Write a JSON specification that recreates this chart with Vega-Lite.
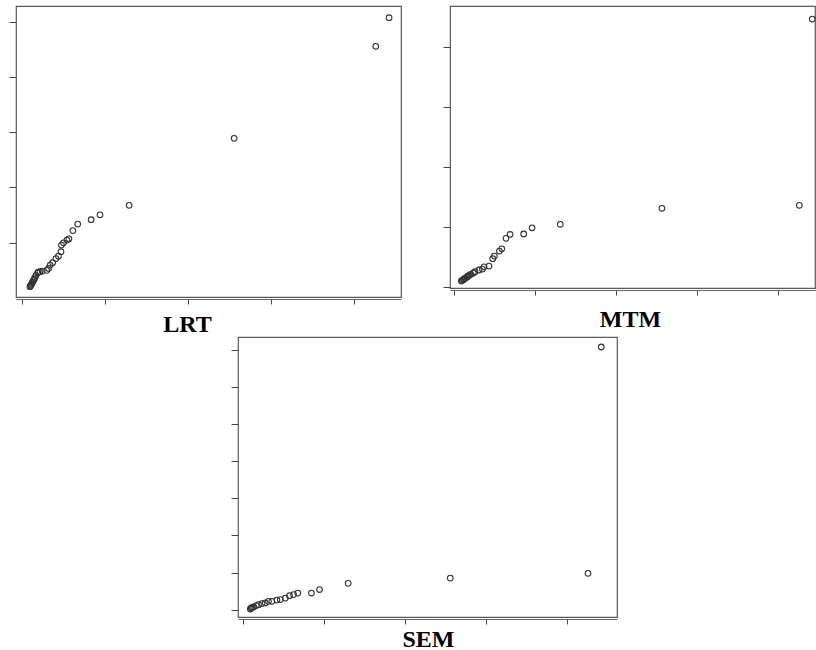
{
  "$schema": "https://vega.github.io/schema/vega-lite/v6.json",
  "padding": {"left": 7, "top": 5, "right": 0, "bottom": 0},
  "background": "white",
  "datasets": {
    "lrt": [
      {"x": 22.13, "y": 25.36}, {"x": 21.33, "y": 22.77}, {"x": 12.79, "y": 14.45}, {"x": 6.46, "y": 8.39},
      {"x": 4.70, "y": 7.53}, {"x": 4.17, "y": 7.08}, {"x": 3.36, "y": 6.69}, {"x": 3.07, "y": 6.10},
      {"x": 2.83, "y": 5.36}, {"x": 2.71, "y": 5.24}, {"x": 2.50, "y": 4.99}, {"x": 2.38, "y": 4.79},
      {"x": 2.35, "y": 4.19}, {"x": 2.20, "y": 3.78}, {"x": 2.05, "y": 3.57}, {"x": 1.85, "y": 3.19},
      {"x": 1.70, "y": 2.98}, {"x": 1.60, "y": 2.67}, {"x": 1.49, "y": 2.50}, {"x": 1.22, "y": 2.44},
      {"x": 1.08, "y": 2.38}, {"x": 0.99, "y": 2.35}, {"x": 0.95, "y": 2.29}, {"x": 0.84, "y": 2.05},
      {"x": 0.78, "y": 1.83}, {"x": 0.74, "y": 1.71}, {"x": 0.70, "y": 1.60}, {"x": 0.66, "y": 1.49},
      {"x": 0.62, "y": 1.38}, {"x": 0.58, "y": 1.26}, {"x": 0.54, "y": 1.17}, {"x": 0.51, "y": 1.08},
      {"x": 0.48, "y": 1.02}
    ],
    "mtm": [
      {"x": 22.10, "y": 22.33}, {"x": 21.30, "y": 6.81}, {"x": 12.82, "y": 6.56}, {"x": 6.54, "y": 5.23},
      {"x": 4.80, "y": 4.94}, {"x": 4.28, "y": 4.42}, {"x": 3.44, "y": 4.38}, {"x": 3.19, "y": 4.06},
      {"x": 2.93, "y": 3.19}, {"x": 2.78, "y": 3.00}, {"x": 2.47, "y": 2.58}, {"x": 2.37, "y": 2.36},
      {"x": 2.14, "y": 1.75}, {"x": 1.83, "y": 1.69}, {"x": 1.73, "y": 1.50}, {"x": 1.52, "y": 1.42},
      {"x": 1.28, "y": 1.28}, {"x": 1.17, "y": 1.17}, {"x": 1.01, "y": 1.06}, {"x": 0.94, "y": 1.00},
      {"x": 0.86, "y": 0.92}, {"x": 0.81, "y": 0.88}, {"x": 0.77, "y": 0.81}, {"x": 0.66, "y": 0.73},
      {"x": 0.60, "y": 0.67}, {"x": 0.56, "y": 0.61}, {"x": 0.48, "y": 0.56}, {"x": 0.43, "y": 0.50}
    ],
    "sem": [
      {"x": 22.14, "y": 35.44}, {"x": 21.32, "y": 4.89}, {"x": 12.82, "y": 4.25}, {"x": 6.52, "y": 3.54},
      {"x": 4.75, "y": 2.71}, {"x": 4.25, "y": 2.23}, {"x": 3.41, "y": 2.23}, {"x": 3.15, "y": 2.02},
      {"x": 2.90, "y": 1.88}, {"x": 2.64, "y": 1.56}, {"x": 2.33, "y": 1.35}, {"x": 2.12, "y": 1.29},
      {"x": 1.81, "y": 1.12}, {"x": 1.60, "y": 1.12}, {"x": 1.40, "y": 0.89}, {"x": 1.20, "y": 0.81},
      {"x": 0.99, "y": 0.67}, {"x": 0.85, "y": 0.54}, {"x": 0.68, "y": 0.35}, {"x": 0.60, "y": 0.28},
      {"x": 0.54, "y": 0.22}, {"x": 0.48, "y": 0.08}
    ]
  },
  "vconcat": [
    {
      "hconcat": [
        {
          "width": 385, "height": 291,
          "data": {"name": "lrt"},
          "mark": {"type": "point"},
          "encoding": {
            "x": {"field": "x", "type": "quantitative", "scale": {"domain": [-0.36, 22.85], "nice": false, "zero": false},
                  "axis": {"values": [0, 5, 10, 15, 20], "title": "LRT", "titleX": 171, "titleY": 32}},
            "y": {"field": "y", "type": "quantitative", "scale": {"domain": [0.09, 26.42], "nice": false, "zero": false},
                  "axis": {"values": [5, 10, 15, 20, 25], "title": null}}
          }
        },
        {
          "width": 365, "height": 282,
          "data": {"name": "mtm"},
          "mark": {"type": "point"},
          "encoding": {
            "x": {"field": "x", "type": "quantitative", "scale": {"domain": [-0.27, 22.27], "nice": false, "zero": false},
                  "axis": {"values": [0, 5, 10, 15, 20], "title": "MTM", "titleX": 180, "titleY": 36}},
            "y": {"field": "y", "type": "quantitative", "scale": {"domain": [-0.08, 23.42], "nice": false, "zero": false},
                  "axis": {"values": [0, 5, 10, 15, 20], "title": null}}
          }
        }
      ],
      "spacing": 39
    },
    {
      "hconcat": [
        {
          "width": 213, "height": 281,
          "data": {"values": []},
          "mark": "point",
          "view": {"stroke": null}
        },
        {
          "width": 379, "height": 280,
          "data": {"name": "sem"},
          "mark": {"type": "point"},
          "encoding": {
            "x": {"field": "x", "type": "quantitative", "scale": {"domain": [-0.28, 23.11], "nice": false, "zero": false},
                  "axis": {"values": [0, 5, 10, 15, 20], "title": "SEM", "titleX": 190, "titleY": 27}},
            "y": {"field": "y", "type": "quantitative", "scale": {"domain": [-1.0, 36.79], "nice": false, "zero": false},
                  "axis": {"values": [0, 5, 10, 15, 20, 25, 30, 35], "title": null}}
          }
        }
      ],
      "spacing": 0
    }
  ],
  "spacing": -5,
  "config": {
    "view": {"stroke": "#5a5a5a", "strokeWidth": 1.2},
    "axis": {"labels": false, "grid": false, "tickColor": "#444", "tickWidth": 1, "domainColor": "#666",
             "titleFont": "Liberation Serif", "titleFontWeight": "bold", "titleFontSize": 24, "titleColor": "#000",
             "titleAlign": "center", "titleBaseline": "alphabetic"},
    "axisX": {"domain": true, "offset": 2, "tickSize": 5},
    "axisY": {"domain": false, "offset": 0, "tickSize": 7},
    "point": {"filled": false, "shape": "circle", "size": 32, "stroke": "#333", "strokeWidth": 1.1, "opacity": 1}
  }
}
